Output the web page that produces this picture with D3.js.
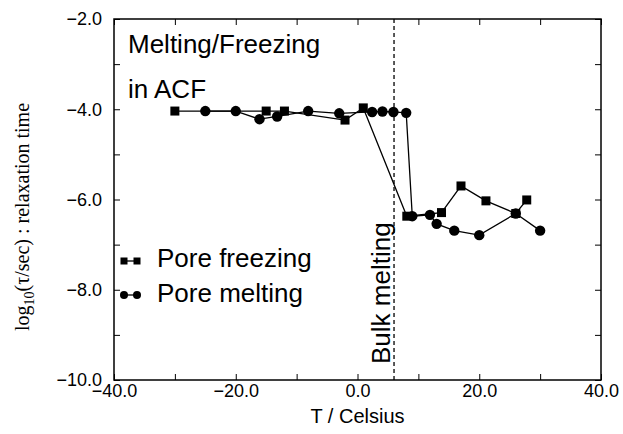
<!DOCTYPE html>
<html>
<head>
<meta charset="utf-8">
<script src="https://cdn.jsdelivr.net/npm/d3@7"></script>
<style>
  body { margin: 0; background: #fff; }
  svg { display: block; }
</style>
</head>
<body>
<svg width="623" height="434"></svg>
<script>
// pore freezing (squares)
var freezeT   = [-30, -15, -12, -2.05, 0.95, 8.1, 13.8, 17.0, 21.1, 26.0, 27.8];
var freezeLog = [-4.04, -4.04, -4.04, -4.24, -3.97, -6.37, -6.29, -5.70, -6.03, -6.31, -6.01];

// pore melting (circles)
var meltT   = [-25, -20, -16.1, -13.2, -8.1, -3.0, 2.4, 4.1, 5.9, 8.0, 9.0, 11.9, 13.0, 15.9, 20.0, 26.0, 30.0];
var meltLog = [-4.04, -4.04, -4.22, -4.16, -4.04, -4.09, -4.06, -4.05, -4.06, -4.08, -6.37, -6.34, -6.54, -6.69, -6.79, -6.31, -6.69];

var bulkMelting = 6;

var xTicks = [-40, -20, 0, 20, 40];
var xTickLabels = ["\u221240.0", "\u221220.0", "0.0", "20.0", "40.0"];
var yTicks = [-10, -8, -6, -4, -2];
var yTickLabels = ["\u221210.0", "\u22128.0", "\u22126.0", "\u22124.0", "\u22122.0"];

var svg = d3.select("svg"),
    pl = 114, pr = 601, pt = 19, pb = 380;

var x = d3.scaleLinear().domain([-40, 40]).range([pl, pr]);
var y = d3.scaleLinear().domain([-10, -2]).range([pb, pt]);

var sans = "'Liberation Sans', Arial, Helvetica, sans-serif";

// minor ticks every 10 on x, every 1 on y
var xMinor = d3.range(-40, 41, 10);
var yMinor = d3.range(-10, -1, 1);

function xFmt(d) { var i = xTicks.indexOf(d); return i < 0 ? "" : xTickLabels[i]; }
function yFmt(d) { var i = yTicks.indexOf(d); return i < 0 ? "" : yTickLabels[i]; }

var axB = svg.append("g")
    .attr("transform", "translate(0," + pb + ")")
    .call(d3.axisBottom(x).tickValues(xMinor).tickSize(-6).tickPadding(4).tickFormat(xFmt));
var axT = svg.append("g")
    .attr("transform", "translate(0," + pt + ")")
    .call(d3.axisTop(x).tickValues(xMinor).tickSize(-6).tickFormat(""));
var axL = svg.append("g")
    .attr("transform", "translate(" + pl + ",0)")
    .call(d3.axisLeft(y).tickValues(yMinor).tickSize(-6).tickPadding(12).tickFormat(yFmt));
var axR = svg.append("g")
    .attr("transform", "translate(" + pr + ",0)")
    .call(d3.axisRight(y).tickValues(yMinor).tickSize(-6).tickFormat(""));

svg.selectAll(".domain").remove();
[axB, axT, axL, axR].forEach(function(a) {
  a.selectAll("line").attr("stroke", "#000").attr("stroke-width", 1);
  a.selectAll("text").attr("font-family", sans).attr("font-size", 18).attr("fill", "#000");
});

svg.append("rect")
    .attr("x", pl).attr("y", pt)
    .attr("width", pr - pl).attr("height", pb - pt)
    .attr("fill", "none").attr("stroke", "#000").attr("stroke-width", 1.5);

// bulk melting line
svg.append("line")
    .attr("x1", x(bulkMelting)).attr("x2", x(bulkMelting))
    .attr("y1", pt).attr("y2", pb)
    .attr("stroke", "#000").attr("stroke-width", 1.3)
    .attr("stroke-dasharray", "4,3");

svg.append("text")
    .attr("transform", "translate(" + (x(bulkMelting) - 4) + ",364) rotate(-90)")
    .attr("font-family", sans).attr("font-size", 26)
    .text("Bulk melting");

var freeze = freezeT.map(function(t, i) { return [t, freezeLog[i]]; });
var melt = meltT.map(function(t, i) { return [t, meltLog[i]]; });

var line = d3.line()
    .x(function(d) { return x(d[0]); })
    .y(function(d) { return y(d[1]); });

svg.append("path").datum(freeze)
    .attr("d", line).attr("fill", "none").attr("stroke", "#000").attr("stroke-width", 1.3);
svg.selectAll(".sq").data(freeze).enter().append("rect")
    .attr("class", "sq")
    .attr("x", function(d) { return x(d[0]) - 4.5; })
    .attr("y", function(d) { return y(d[1]) - 4.5; })
    .attr("width", 9).attr("height", 9)
    .attr("fill", "#000");

svg.append("path").datum(melt)
    .attr("d", line).attr("fill", "none").attr("stroke", "#000").attr("stroke-width", 1.3);
svg.selectAll(".ci").data(melt).enter().append("circle")
    .attr("class", "ci")
    .attr("cx", function(d) { return x(d[0]); })
    .attr("cy", function(d) { return y(d[1]); })
    .attr("r", 5.2)
    .attr("fill", "#000");

// annotation
svg.append("text").attr("x", 128).attr("y", 53)
    .attr("font-family", sans).attr("font-size", 26).text("Melting/Freezing");
svg.append("text").attr("x", 128).attr("y", 98)
    .attr("font-family", sans).attr("font-size", 26).text("in ACF");

// legend
var legend = svg.append("g");
var ly1 = 261, ly2 = 295;
legend.append("line").attr("x1", 124).attr("x2", 137).attr("y1", ly1).attr("y2", ly1)
    .attr("stroke", "#000").attr("stroke-width", 1.3);
[124, 137].forEach(function(px) {
  legend.append("rect").attr("x", px - 3.5).attr("y", ly1 - 3.5)
      .attr("width", 7).attr("height", 7).attr("fill", "#000");
});
legend.append("text").attr("x", 157).attr("y", 267)
    .attr("font-family", sans).attr("font-size", 26).text("Pore freezing");

legend.append("line").attr("x1", 124).attr("x2", 137).attr("y1", ly2).attr("y2", ly2)
    .attr("stroke", "#000").attr("stroke-width", 1.3);
[124, 137].forEach(function(px) {
  legend.append("circle").attr("cx", px).attr("cy", ly2).attr("r", 4).attr("fill", "#000");
});
legend.append("text").attr("x", 157).attr("y", 302)
    .attr("font-family", sans).attr("font-size", 26).text("Pore melting");

// axis titles
svg.append("text")
    .attr("x", (pl + pr) / 2).attr("y", 423)
    .attr("text-anchor", "middle")
    .attr("font-family", sans).attr("font-size", 20)
    .text("T / Celsius");

var yl = svg.append("text")
    .attr("transform", "translate(29,217) rotate(-90)")
    .attr("text-anchor", "middle")
    .attr("font-family", "'Liberation Serif', 'Times New Roman', serif")
    .attr("font-size", 20);
yl.append("tspan").text("log");
yl.append("tspan").attr("font-size", 14).attr("dy", 5).text("10");
yl.append("tspan").attr("dy", -5).text("(\u03c4/sec) : relaxation time");
</script>
</body>
</html>
